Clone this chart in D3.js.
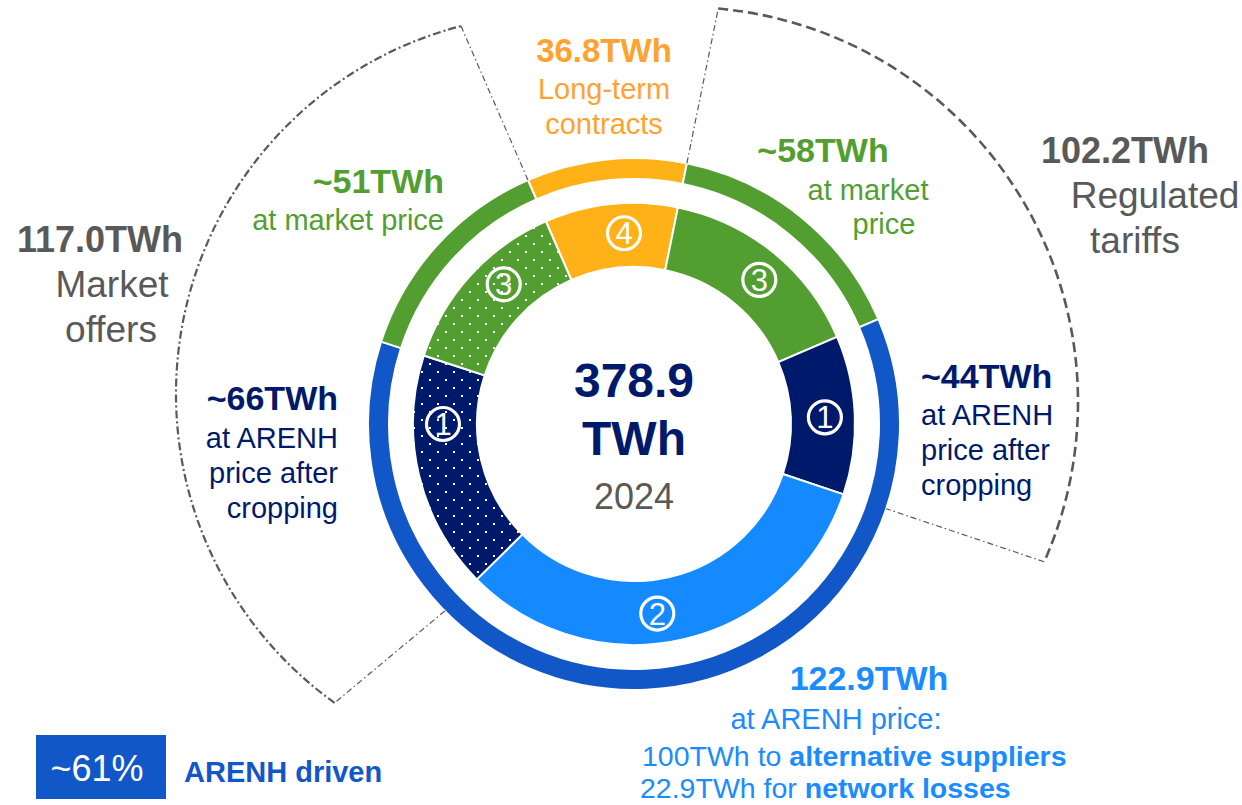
<!DOCTYPE html>
<html lang="en">
<head>
<meta charset="UTF-8">
<title>Electricity volumes 2024</title>
<script src="https://cdn.jsdelivr.net/npm/d3@7"></script>
<style>
  body { margin: 0; background: #fff; }
  svg { display: block; font-family: "Liberation Sans", Arial, sans-serif; }
</style>
</head>
<body>
<div id="chart"></div>
<script>
// ---- data (TWh) ----
const year = "2024";
const total = 378.9;
// inner donut, clockwise from the long-term contracts slice
const segNames  = ["Long-term contracts", "Regulated - market price", "Regulated - ARENH",
                   "ARENH price (suppliers + losses)", "Market offers - ARENH", "Market offers - market price"];
const segValues = [36.8, 58.2, 44, 122.9, 66, 51];
const segMarks  = ["4", "3", "1", "2", "1", "3"];
// outer ring
const ringNames  = ["Long-term contracts", "Regulated - market price", "ARENH driven", "Market offers - market price"];
const ringValues = [36.8, 58.2, 232.9, 51];
// groups drawn as dashed brackets
const groupNames  = ["Market offers", "Regulated tariffs"];
const groupValues = [117.0, 102.2];
const arenhSplit  = [100, 22.9];

// ---- colours ----
const orange = "#FFB217", green = "#539E30", navy = "#001A6B", sky = "#158AFF", blue = "#1257C8";
const grey = "#595959";
const segFill  = [orange, green, navy, sky, "url(#dotNavy)", "url(#dotGreen)"];
const ringFill = [orange, green, blue, green];

const W = 1242, H = 805;
const cx = 634, cy = 424;
const rad = d => d * Math.PI / 180;

const svg = d3.select("#chart").append("svg")
  .attr("width", W).attr("height", H);

const defs = svg.append("defs");
function dots(id, color) {
  const p = defs.append("pattern").attr("id", id)
    .attr("patternUnits", "userSpaceOnUse").attr("width", 16).attr("height", 16);
  p.append("rect").attr("width", 16).attr("height", 16).attr("fill", color);
  p.append("rect").attr("x", 3).attr("y", 3).attr("width", 2).attr("height", 2).attr("fill", "#fff");
  p.append("rect").attr("x", 11).attr("y", 11).attr("width", 2).attr("height", 2).attr("fill", "#fff");
}
dots("dotNavy", navy);
dots("dotGreen", green);

const g = svg.append("g").attr("transform", `translate(${cx},${cy})`);

const start = rad(-23.5);
const pie = d3.pie().sort(null).value(d => d).startAngle(start).endAngle(start + 2 * Math.PI);
const segs = pie(segValues);
const rings = pie(ringValues);

const inner = d3.arc().innerRadius(157).outerRadius(221);
const outer = d3.arc().innerRadius(245).outerRadius(266);

g.selectAll("path.seg").data(segs).enter().append("path")
  .attr("class", "seg")
  .attr("d", inner)
  .attr("fill", (d, i) => segFill[i])
  .attr("stroke", "#fff").attr("stroke-width", 2);

g.selectAll("path.ring").data(rings).enter().append("path")
  .attr("class", "ring")
  .attr("d", outer)
  .attr("fill", (d, i) => ringFill[i])
  .attr("stroke", "#fff").attr("stroke-width", 2);

// circled numbers, angle nudged from the slice middle as in the original
const markDeg = [-3, 41, 88, 173, 270, 317];
const marks = g.selectAll("g.mark").data(segs).enter().append("g")
  .attr("class", "mark")
  .attr("transform", (d, i) => {
    const a = rad(markDeg[i]);
    return `translate(${191 * Math.sin(a)},${-191 * Math.cos(a)})`;
  });
marks.append("circle").attr("r", 16.5).attr("fill", "none")
  .attr("stroke", "#fff").attr("stroke-width", 3.2);
marks.append("text").attr("text-anchor", "middle").attr("dy", 11)
  .attr("fill", "#fff").attr("font-size", 31)
  .text((d, i) => segMarks[i]);

// centre
g.append("text").attr("text-anchor", "middle").attr("y", -27)
  .attr("font-size", 48).attr("font-weight", "bold").attr("fill", navy)
  .text(total.toFixed(1));
g.append("text").attr("text-anchor", "middle").attr("y", 31)
  .attr("font-size", 48).attr("font-weight", "bold").attr("fill", navy)
  .text("TWh");
g.append("text").attr("text-anchor", "middle").attr("y", 85)
  .attr("font-size", 36).attr("fill", grey)
  .text(year);

// ---- dashed group brackets ----
function polar(a, r) { return [r * Math.sin(a), -r * Math.cos(a)]; }
function hit(a, c, R) {
  const dx = Math.sin(a), dy = -Math.cos(a);
  const b = dx * c[0] + dy * c[1];
  const t = b + Math.sqrt(b * b - c[0] * c[0] - c[1] * c[1] + R * R);
  return [t * dx, t * dy];
}
function bracket(a0, a1, c, R, arcDash, arcWidth, lean0) {
  const p0 = polar(a0, 266), p1 = polar(a1, 266);
  const q0 = hit(a0 + lean0, c, R), q1 = hit(a1, c, R);
  g.append("path")
    .attr("d", `M${p0}L${q0}M${q1}L${p1}`)
    .attr("fill", "none").attr("stroke", grey).attr("stroke-width", 1.2)
    .attr("stroke-dasharray", "6,3,1.5,3");
  g.append("path")
    .attr("d", `M${q0}A${R},${R} 0 0 1 ${q1}`)
    .attr("fill", "none").attr("stroke", grey).attr("stroke-width", arcWidth)
    .attr("stroke-dasharray", arcDash);
}
// market offers: navy dotted + green dotted slices
bracket(segs[4].startAngle, segs[5].endAngle, [-78, -30], 380, "8,3,2,3", 2.2, rad(1.7));
// regulated tariffs: green + navy slices
bracket(segs[1].startAngle, segs[2].endAngle, [49, -22], 395, "10,5", 2.6, 0);

// ---- labels ----
function lines(x, anchor, color, items) {
  items.forEach(it => {
    svg.append("text")
      .attr("x", it.x !== undefined ? it.x : x).attr("y", it.y)
      .attr("text-anchor", anchor)
      .attr("font-size", it.size).attr("font-weight", it.bold ? "bold" : "normal")
      .attr("fill", color)
      .text(it.t);
  });
}
const approx = v => "~" + Math.round(v) + "TWh";

lines(604, "middle", "#FFA22F", [
  { t: segValues[0].toFixed(1) + "TWh", y: 62, size: 33, bold: true },
  { t: "Long-term", y: 99, size: 29 },
  { t: "contracts", y: 134, size: 29 }
]);
lines(444, "end", green, [
  { t: approx(segValues[5]), y: 193, size: 34, bold: true },
  { t: "at market price", y: 230, size: 29 }
]);
lines(0, "middle", green, [
  { t: approx(segValues[1]), x: 823, y: 162, size: 34, bold: true },
  { t: "at market", x: 868, y: 200, size: 29 },
  { t: "price", x: 884, y: 234, size: 29 }
]);
lines(0, "middle", grey, [
  { t: groupValues[0].toFixed(1) + "TWh", x: 100, y: 252, size: 36, bold: true },
  { t: "Market", x: 112, y: 297, size: 37 },
  { t: "offers", x: 111, y: 342, size: 37 }
]);
lines(0, "middle", grey, [
  { t: groupValues[1].toFixed(1) + "TWh", x: 1125, y: 163, size: 36, bold: true },
  { t: "Regulated", x: 1155, y: 208, size: 37 },
  { t: "tariffs", x: 1135, y: 253, size: 37 }
]);
lines(338, "end", navy, [
  { t: approx(segValues[4]), y: 410, size: 34, bold: true },
  { t: "at ARENH", y: 448, size: 29 },
  { t: "price after", y: 483, size: 29 },
  { t: "cropping", y: 518, size: 29 }
]);
lines(921, "start", navy, [
  { t: approx(segValues[2]), y: 388, size: 34, bold: true },
  { t: "at ARENH", y: 425, size: 29 },
  { t: "price after", y: 460, size: 29 },
  { t: "cropping", y: 495, size: 29 }
]);
lines(869, "middle", "#1A8CFF", [
  { t: segValues[3].toFixed(1) + "TWh", y: 690, size: 34, bold: true },
  { t: "at ARENH price:", x: 836, y: 729, size: 29 }
]);
const split = svg.append("g").attr("fill", "#1A8CFF").attr("font-size", 28.5);
const s1 = split.append("text").attr("x", 642).attr("y", 766);
s1.append("tspan").text(arenhSplit[0] + "TWh to ");
s1.append("tspan").attr("font-weight", "bold").text("alternative suppliers");
const s2 = split.append("text").attr("x", 640).attr("y", 798);
s2.append("tspan").text(arenhSplit[1].toFixed(1) + "TWh for ");
s2.append("tspan").attr("font-weight", "bold").text("network losses");

// ---- bottom-left key ----
svg.append("rect").attr("x", 36).attr("y", 735).attr("width", 130).attr("height", 64).attr("fill", blue);
svg.append("text").attr("x", 97).attr("y", 781).attr("text-anchor", "middle")
  .attr("font-size", 36).attr("fill", "#fff")
  .text("~" + Math.round(ringValues[2] / total * 100) + "%");
svg.append("text").attr("x", 184).attr("y", 782)
  .attr("font-size", 29).attr("font-weight", "bold").attr("fill", blue)
  .text("ARENH driven");
</script>
</body>
</html>
